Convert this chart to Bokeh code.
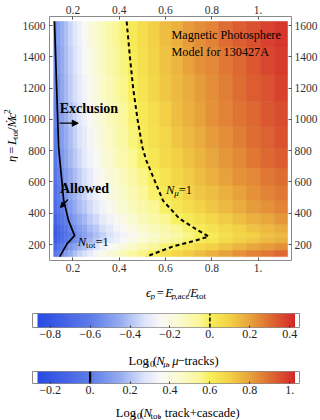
import numpy as np
from bokeh.plotting import figure
from bokeh.models import (Range1d, LinearAxis, FixedTicker, LinearColorMapper, Label,
                          Arrow, NormalHead, ColumnDataSource)
from bokeh.transform import linear_cmap
from bokeh.layouts import column, row
from bokeh.embed import file_html
from bokeh.resources import INLINE

# ------------------------------------------------------------------ data
# heat-map cell centres (epsilon_p) and (eta); values are log10(N_mu) read from the colours
eps_centers = [0.125, 0.14, 0.155, 0.17, 0.19, 0.21, 0.23, 0.25, 0.275, 0.30, 0.33, 0.36, 0.39,
               0.42, 0.46, 0.50, 0.55, 0.60, 0.65, 0.70, 0.75, 0.80, 0.86, 0.92, 0.98, 1.04, 1.10]
eps_extent = (0.117, 1.127)
eta_centers = [140, 190, 230, 260, 300, 360, 440, 530, 630, 750, 880, 1030, 1200, 1380, 1560]
eta_extent = (123, 1626)
log_nmu = [
    [-0.64, -0.59, -0.55, -0.51, -0.46, -0.41, -0.37, -0.34, -0.30, -0.26, -0.22, -0.18, -0.15, -0.11, -0.07, -0.04, 0.00, 0.04, 0.08, 0.11, 0.14, 0.17, 0.20, 0.23, 0.26, 0.28, 0.31],
    [-0.71, -0.66, -0.61, -0.57, -0.52, -0.48, -0.44, -0.41, -0.36, -0.33, -0.28, -0.25, -0.21, -0.18, -0.14, -0.10, -0.06, -0.03, 0.01, 0.04, 0.07, 0.10, 0.13, 0.16, 0.19, 0.21, 0.24],
    [-0.77, -0.72, -0.68, -0.64, -0.59, -0.55, -0.51, -0.47, -0.43, -0.39, -0.35, -0.31, -0.28, -0.25, -0.21, -0.17, -0.13, -0.09, -0.06, -0.02, 0.01, 0.03, 0.07, 0.10, 0.12, 0.15, 0.17],
    [-0.79, -0.74, -0.70, -0.66, -0.61, -0.57, -0.53, -0.49, -0.45, -0.41, -0.37, -0.33, -0.30, -0.27, -0.23, -0.19, -0.15, -0.11, -0.08, -0.04, -0.01, 0.01, 0.05, 0.08, 0.10, 0.13, 0.15],
    [-0.77, -0.72, -0.67, -0.63, -0.58, -0.54, -0.50, -0.47, -0.42, -0.39, -0.34, -0.31, -0.27, -0.24, -0.20, -0.16, -0.12, -0.09, -0.05, -0.02, 0.01, 0.04, 0.07, 0.10, 0.13, 0.15, 0.18],
    [-0.73, -0.68, -0.63, -0.59, -0.54, -0.50, -0.46, -0.43, -0.38, -0.35, -0.30, -0.27, -0.23, -0.20, -0.16, -0.12, -0.08, -0.05, -0.01, 0.02, 0.05, 0.08, 0.11, 0.14, 0.17, 0.19, 0.22],
    [-0.69, -0.64, -0.60, -0.56, -0.51, -0.46, -0.42, -0.39, -0.35, -0.31, -0.27, -0.23, -0.19, -0.16, -0.12, -0.09, -0.05, -0.01, 0.03, 0.06, 0.09, 0.12, 0.15, 0.18, 0.21, 0.23, 0.26],
    [-0.66, -0.61, -0.57, -0.53, -0.48, -0.44, -0.40, -0.36, -0.32, -0.28, -0.24, -0.20, -0.17, -0.14, -0.10, -0.06, -0.02, 0.02, 0.05, 0.09, 0.12, 0.14, 0.17, 0.20, 0.23, 0.26, 0.28],
    [-0.64, -0.59, -0.55, -0.51, -0.46, -0.42, -0.38, -0.34, -0.30, -0.26, -0.22, -0.18, -0.15, -0.12, -0.08, -0.04, 0.00, 0.04, 0.08, 0.11, 0.14, 0.17, 0.20, 0.23, 0.25, 0.28, 0.30],
    [-0.62, -0.57, -0.52, -0.48, -0.43, -0.39, -0.35, -0.31, -0.27, -0.24, -0.19, -0.16, -0.12, -0.09, -0.05, -0.01, 0.03, 0.07, 0.10, 0.13, 0.16, 0.19, 0.22, 0.25, 0.28, 0.31, 0.33],
    [-0.60, -0.55, -0.50, -0.46, -0.42, -0.37, -0.33, -0.30, -0.26, -0.22, -0.18, -0.14, -0.10, -0.07, -0.03, 0.01, 0.05, 0.08, 0.12, 0.15, 0.18, 0.21, 0.24, 0.27, 0.30, 0.32, 0.35],
    [-0.58, -0.53, -0.49, -0.45, -0.40, -0.36, -0.32, -0.28, -0.24, -0.20, -0.16, -0.12, -0.09, -0.06, -0.02, 0.02, 0.06, 0.10, 0.14, 0.17, 0.20, 0.23, 0.26, 0.29, 0.31, 0.34, 0.36],
    [-0.57, -0.52, -0.47, -0.43, -0.38, -0.34, -0.30, -0.27, -0.22, -0.19, -0.14, -0.11, -0.07, -0.04, 0.00, 0.04, 0.08, 0.12, 0.15, 0.18, 0.21, 0.24, 0.27, 0.30, 0.33, 0.35, 0.38],
    [-0.55, -0.50, -0.46, -0.42, -0.37, -0.33, -0.29, -0.25, -0.21, -0.17, -0.13, -0.09, -0.06, -0.03, 0.01, 0.05, 0.09, 0.13, 0.16, 0.20, 0.23, 0.25, 0.28, 0.31, 0.34, 0.37, 0.39],
    [-0.54, -0.49, -0.45, -0.41, -0.36, -0.32, -0.28, -0.24, -0.20, -0.16, -0.12, -0.08, -0.05, -0.02, 0.02, 0.06, 0.10, 0.14, 0.17, 0.21, 0.24, 0.26, 0.30, 0.33, 0.35, 0.38, 0.40],
]
# N_mu = 1 contour (dashed)
nmu_contour_eps = [0.432, 0.446, 0.460, 0.479, 0.500, 0.517, 0.553, 0.589, 0.660, 0.730, 0.786, 0.730, 0.630, 0.517]
nmu_contour_eta = [1626, 1400, 1200, 1000, 822, 737, 609, 481, 366, 300, 251, 226, 187, 123]
# N_tot = 1 contour (solid)
ntot_contour_eps = [0.120, 0.129, 0.138, 0.149, 0.160, 0.181, 0.207, 0.174, 0.143]
ntot_contour_eta = [1628, 1227, 822, 652, 481, 353, 257, 204, 123]

x_ticks = [0.2, 0.4, 0.6, 0.8, 1.0]
x_tick_labels = ["0.2", "0.4", "0.6", "0.8", "1."]
y_ticks = [200, 400, 600, 800, 1000, 1200, 1400, 1600]
y_tick_labels = ["200", "400", "600", "800", "1000", "1200", "1400", "1600"]

mu_low, mu_high = -0.8635, 0.4265
mu_ticks = [-0.8, -0.6, -0.4, -0.2, 0.0, 0.2, 0.4]
mu_tick_labels = ["\u22120.8", "\u22120.6", "\u22120.4", "\u22120.2", "0.", "0.2", "0.4"]
mu_level = 0.0
tot_low, tot_high = -0.2635, 1.0265
tot_ticks = [-0.2, 0.0, 0.2, 0.4, 0.6, 0.8, 1.0]
tot_tick_labels = ["\u22120.2", "0.", "0.2", "0.4", "0.6", "0.8", "1."]
tot_level = 0.0

# ------------------------------------------------------------------ style
FONT = "Liberation Serif"
FRAME = "#8a8a8a"
stops = [(0.000, (42, 76, 228)), (0.204, (95, 125, 232)), (0.320, (152, 174, 240)),
         (0.413, (222, 228, 250)), (0.475, (248, 248, 248)), (0.552, (250, 250, 205)),
         (0.630, (250, 247, 150)), (0.668, (248, 240, 90)), (0.746, (243, 210, 70)),
         (0.823, (232, 165, 60)), (0.901, (222, 110, 50)), (1.000, (212, 40, 42))]
palette = []
for i in range(256):
    t = i / 255
    for (t0, c0), (t1, c1) in zip(stops[:-1], stops[1:]):
        if t0 <= t <= t1:
            f = (t - t0) / (t1 - t0)
            c = [round(a + (b - a) * f) for a, b in zip(c0, c1)]
            palette.append("#%02x%02x%02x" % tuple(c))
            break

REG = {' ': 250, '(': 333, ')': 333, ',': 250, '.': 250, '/': 278, '=': 564, '+': 564,
       '\u2212': 564, 'A': 722, 'E': 611, 'L': 611, 'M': 889, 'N': 722, 'P': 556,
       'a': 444, 'c': 444, 'd': 500, 'e': 444, 'g': 500, 'h': 500, 'i': 278, 'k': 500,
       'l': 278, 'n': 500, 'o': 500, 'p': 500, 'r': 333, 's': 389, 't': 278, 'u': 500,
       'w': 722, 'x': 500, '\u03bc': 500, '\u03b7': 500, '\u03f5': 430, '\u1e40': 889}
ITA = dict(REG, E=611, L=556, M=833, N=667, c=444, p=500)
ITA['\u1e40'] = 833
TS = 12.5     # title font size
SS = 9        # sub/superscript size


def tw(s, size, style):
    tbl = ITA if style == "italic" else REG
    return sum(tbl.get(ch, 500) for ch in s) * size / 1000.0


def split(t, s):
    lead = (len(t) - len(t.lstrip(' '))) * 0.25 * s
    trail = (len(t) - len(t.rstrip(' '))) * 0.25 * s
    return t.strip(' '), lead, trail


def ident(v):
    return v


def hrun(fig, fx, fy, x, base, pieces, align="left"):
    total = 0
    for t, s, st, _ in pieces:
        core, lead, trail = split(t, s)
        total += lead + tw(core, s, st) + trail
    if align == "center":
        x -= total / 2
    for t, s, st, sh in pieces:
        core, lead, trail = split(t, s)
        x += lead
        fig.add_layout(Label(x=fx(x), y=fy(base - sh), text=core, text_font=FONT,
                             text_font_size=f"{s}px", text_font_style=st, text_color="black",
                             text_baseline="alphabetic", text_align="left"))
        x += tw(core, s, st) + trail


def vrun(fig, fx, fy, base_x, yc, pieces):
    total = 0
    for t, s, st, _ in pieces:
        core, lead, trail = split(t, s)
        total += lead + tw(core, s, st) + trail
    y = yc + total / 2
    for t, s, st, sh in pieces:
        core, lead, trail = split(t, s)
        y -= lead
        fig.add_layout(Label(x=fx(base_x - sh), y=fy(y), text=core, text_font=FONT,
                             angle=np.pi / 2, text_font_size=f"{s}px", text_font_style=st,
                             text_color="black", text_baseline="alphabetic", text_align="left"))
        y -= tw(core, s, st) + trail


def text_fig(w, h, top):
    f = figure(width=w, height=h, x_range=Range1d(0, w), y_range=Range1d(top + h, top),
               output_backend="svg", toolbar_location=None, x_axis_location=None,
               y_axis_location=None, min_border=0)
    f.grid.visible = False
    f.outline_line_color = None
    return f


# ------------------------------------------------------------------ main plot
X0, X1 = 0.0986, 1.1443
Y0, Y1 = 98.0, 1658.0
OFFX = 18                    # page x of the main figure
FL, FR, FT, FB = 49, 293, 16, 260
MH = 280
p = figure(width=320 - OFFX, height=MH, x_range=Range1d(X0, X1), y_range=Range1d(Y0, Y1),
           output_backend="svg", toolbar_location=None, x_axis_location=None,
           y_axis_location=None, min_border_left=FL - OFFX, min_border_right=320 - FR,
           min_border_top=FT, min_border_bottom=MH - FB)
p.outline_line_color = None
p.grid.visible = False


def fx(px):
    return X0 + (px - FL) * (X1 - X0) / (FR - FL)


def fy(py):
    return Y0 + (FB - py) * (Y1 - Y0) / (FB - FT)


eps_edges = ([eps_extent[0]] + [(a + b) / 2 for a, b in zip(eps_centers[:-1], eps_centers[1:])]
             + [eps_extent[1]])
eta_edges = ([eta_extent[0]] + [(a + b) / 2 for a, b in zip(eta_centers[:-1], eta_centers[1:])]
             + [eta_extent[1]])
cells = dict(left=[], right=[], bottom=[], top=[], v=[])
for j, vals in enumerate(log_nmu):
    for i, v in enumerate(vals):
        cells["left"].append(eps_edges[i])
        cells["right"].append(eps_edges[i + 1])
        cells["bottom"].append(eta_edges[j])
        cells["top"].append(eta_edges[j + 1])
        cells["v"].append(v)
cmap = linear_cmap("v", palette, mu_low, mu_high)
p.quad(left="left", right="right", bottom="bottom", top="top", source=ColumnDataSource(cells),
       fill_color=cmap, line_color=cmap, line_width=0.6)

p.line(nmu_contour_eps, nmu_contour_eta, line_color="black", line_width=2, line_dash="4 3")
p.line(ntot_contour_eps, ntot_contour_eta, line_color="black", line_width=1.7)


def axis(ticks, labels, standoff):
    return LinearAxis(ticker=FixedTicker(ticks=ticks),
                      major_label_overrides={float(k): v for k, v in zip(ticks, labels)},
                      axis_line_color=FRAME, major_tick_line_color="#555555",
                      major_tick_in=3, major_tick_out=0, minor_tick_line_color=None,
                      major_label_text_font=FONT, major_label_text_font_size="11.5px",
                      major_label_text_color="#333333", major_label_standoff=standoff)


p.add_layout(axis(x_ticks, x_tick_labels, 3), "below")
p.add_layout(axis(x_ticks, x_tick_labels, 3), "above")
p.add_layout(axis(y_ticks, y_tick_labels, 4), "left")
p.add_layout(axis(y_ticks, y_tick_labels, 3), "right")

for txt, base in [("Magnetic Photosphere", 34.3), ("Model for 130427A", 51.7)]:
    p.add_layout(Label(x=fx(172), y=fy(base), text=txt, text_font=FONT, text_font_size="12.2px",
                       text_color="black", text_baseline="alphabetic"))
for txt, xx, base in [("Exclusion", 59.3, 107.5), ("Allowed", 59.5, 188.3)]:
    p.add_layout(Label(x=fx(xx), y=fy(base), text=txt, text_font=FONT, text_font_size="14px",
                       text_font_style="bold", text_color="black", text_baseline="alphabetic"))
p.add_layout(Arrow(end=NormalHead(size=6, line_color="black", fill_color="black", line_width=1),
                   x_start=fx(59.3), y_start=fy(122.7), x_end=fx(78), y_end=fy(122.7),
                   line_color="black", line_width=1.3))
p.add_layout(Arrow(end=NormalHead(size=5, line_color="black", fill_color="black", line_width=1),
                   x_start=fx(67.5), y_start=fy(199), x_end=fx(60), y_end=fy(207),
                   line_color="black", line_width=1.2))
hrun(p, fx, fy, 77.5, 241.5, [("N", TS, "italic", 0), ("tot", SS, "normal", -3),
                              ("=1", TS, "normal", 0)])
hrun(p, fx, fy, 166.5, 189.3, [("N", TS, "italic", 0), ("\u03bc", SS, "italic", -3),
                               ("=1", TS, "normal", 0)])

# y-axis title (own strip left of the plot)
ylab = text_fig(OFFX, MH, 0)
vrun(ylab, ident, ident, 11, 137, [("\u03b7", TS, "italic", 0), (" = ", TS, "normal", 0),
                                   ("L", TS, "italic", 0), ("tot", SS, "normal", -3),
                                   ("/", TS, "normal", 0), ("\u1e40", TS, "italic", 0),
                                   ("c", TS, "italic", 0), ("2", SS, "normal", 4.5)])

# x-axis title strip
xlab = text_fig(320, 20, MH)
hrun(xlab, ident, ident, 171, 292, [("\u03f5", TS, "italic", 0), ("p", SS, "italic", -3),
                                    (" = ", TS, "normal", 0), ("E", TS, "italic", 0),
                                    ("p", SS, "italic", -3), (",acc", SS, "normal", -3),
                                    ("/", TS, "normal", 0), ("E", TS, "italic", 0),
                                    ("tot", SS, "normal", -3)], align="center")


# ------------------------------------------------------------------ colour bars
def colorbar_fig(h, top_b, bot_b, low, high, ticks, labels, level, dash, lw):
    pad = 5 / 200.0
    f = figure(width=320, height=h, x_range=Range1d(low - pad, high + 0.9 * pad),
               y_range=Range1d(0, 1), output_backend="svg", toolbar_location=None,
               x_axis_location=None, y_axis_location=None, min_border_left=32,
               min_border_right=21, min_border_top=top_b, min_border_bottom=bot_b)
    f.grid.visible = False
    f.outline_line_color = FRAME
    mapper = LinearColorMapper(palette=palette, low=low, high=high)
    ramp = np.linspace(low, high, 258).reshape(1, -1)
    f.image(image=[ramp], x=low, y=0, dw=high - low, dh=1, color_mapper=mapper)
    ax = LinearAxis(ticker=FixedTicker(ticks=ticks),
                    major_label_overrides={float(k): v for k, v in zip(ticks, labels)},
                    axis_line_color=None, major_tick_line_color="#333333",
                    major_tick_in=2, major_tick_out=0, minor_tick_line_color=None,
                    major_label_text_font=FONT, major_label_text_font_size="12px",
                    major_label_text_color="#222222", major_label_standoff=2)
    f.add_layout(ax, "below")
    f.line([level, level], [0, 1], line_color="black", line_width=lw, line_dash=dash)
    return f


cb1 = colorbar_fig(45, 13, 18, mu_low, mu_high, mu_ticks, mu_tick_labels, mu_level, "4 2", 1.6)
t1 = text_fig(320, 23, 345)
hrun(t1, ident, ident, 165, 360, [("Log", TS, "normal", 0), ("10", SS, "normal", -3),
                                  ("(", TS, "normal", 0), ("N", TS, "italic", 0),
                                  ("\u03bc", SS, "italic", -3), (", ", TS, "normal", 0),
                                  ("\u03bc", TS, "italic", 0), ("\u2212tracks)", TS, "normal", 0)],
     align="center")
cb2 = colorbar_fig(32, 3, 17, tot_low, tot_high, tot_ticks, tot_tick_labels, tot_level,
                   "solid", 2.2)
t2 = text_fig(320, 20, 400)
hrun(t2, ident, ident, 166, 412, [("Log", TS, "normal", 0), ("10", SS, "normal", -3),
                                  ("(", TS, "normal", 0), ("N", TS, "italic", 0),
                                  ("tot", SS, "normal", -3),
                                  (", track+cascade)", TS, "normal", 0)], align="center")

layout = column(row(ylab, p), xlab, cb1, t1, cb2, t2)
open("out.html", "w").write(file_html(layout, INLINE))
